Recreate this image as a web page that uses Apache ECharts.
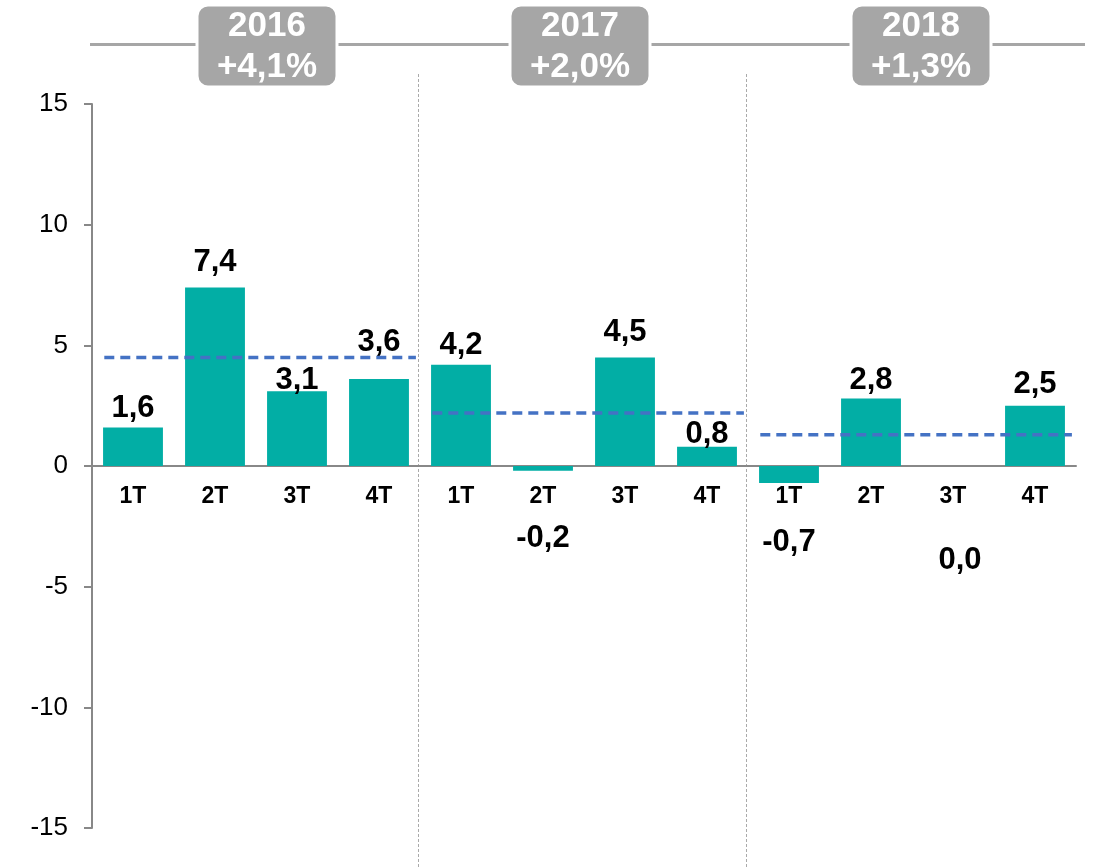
<!DOCTYPE html>
<html>
<head>
    <meta charset="UTF-8">
    <title>ECharts</title>
    <script src="https://cdn.jsdelivr.net/npm/echarts@6/dist/echarts.min.js"></script>
    <style>
        html, body { margin: 0; padding: 0; background: #fff; }
    </style>
</head>
<body>
    <div id="main" style="width:1099px;height:868px;"></div>
    <script type="text/javascript">
        // datos
        var quarters = ['1T', '2T', '3T', '4T', '1T', '2T', '3T', '4T', '1T', '2T', '3T', '4T'];
        var values = [1.6, 7.4, 3.1, 3.6, 4.2, -0.2, 4.5, 0.8, -0.7, 2.8, 0.0, 2.5];
        var years = ['2016', '2017', '2018'];
        var yearGrowth = ['+4,1%', '+2,0%', '+1,3%'];
        var yearAverage = [4.5, 2.2, 1.3];
        var yTicks = [-15, -10, -5, 0, 5, 10, 15];

        var myChart = echarts.init(document.getElementById('main'));

        var FONT = 'Liberation Sans, Arial, sans-serif';
        var GRID = { left: 92, right: 23, top: 104, bottom: 40 };
        var yMin = yTicks[0], yMax = yTicks[yTicks.length - 1];
        // el eje de categorías va sobre el cero
        var plotH = 868 - GRID.top - GRID.bottom;
        var zeroOffset = -plotH * (0 - yMin) / (yMax - yMin);

        // ajuste de etiquetas como en el original (dx, dy)
        var labelShift = [[0, 2], [0, -4], [0, 10], [0, -16], [0, 1], [0, 70], [0, -4], [0, 8], [0, 68], [0, 3], [7, 94], [0, -1]];

        var barData = values.map(function (v, i) {
            var item = { value: v };
            if (v < 0 || i === 10) {
                item.label = { position: 'inside', offset: labelShift[i] };
            } else {
                item.label = { offset: labelShift[i] };
            }
            return item;
        });

        var avgSeries = yearAverage.map(function (a, k) {
            return {
                type: 'line',
                xAxisIndex: 1,
                yAxisIndex: 1,
                symbol: 'none',
                silent: true,
                data: [[k * 4 + 0.15, a], [k * 4 + 3.95, a]],
                lineStyle: { color: '#4472c4', width: 3.5, type: [10, 6] },
                z: 5
            };
        });

        myChart.setOption({
            animation: false,
            grid: [GRID, GRID],
            xAxis: [{
                type: 'category',
                gridIndex: 0,
                position: 'bottom',
                offset: zeroOffset,
                data: quarters,
                axisLine: { onZero: false, lineStyle: { color: '#888', width: 2 } },
                axisTick: { alignWithLabel: true, length: 6, lineStyle: { color: '#888', width: 2 } },
                axisLabel: { color: '#000', fontFamily: FONT, fontWeight: 'bold', fontSize: 23, margin: 19 },
                splitLine: { show: false }
            }, {
                type: 'value',
                gridIndex: 1,
                min: 0,
                max: 12,
                show: false
            }],
            yAxis: [{
                type: 'value',
                gridIndex: 0,
                min: yMin,
                max: yMax,
                interval: 5,
                axisLine: { show: true, onZero: false, lineStyle: { color: '#888', width: 2 } },
                axisTick: { show: true, length: 8, lineStyle: { color: '#888', width: 2 } },
                axisLabel: { color: '#000', fontFamily: FONT, fontSize: 26, margin: 24 },
                splitLine: { show: false }
            }, {
                type: 'value',
                gridIndex: 1,
                min: yMin,
                max: yMax,
                show: false
            }],
            series: [{
                type: 'bar',
                data: barData,
                barWidth: '73%',
                itemStyle: { color: '#02aea5' },
                label: {
                    show: true,
                    position: 'top',
                    distance: 5,
                    color: '#000',
                    fontFamily: FONT,
                    fontWeight: 'bold',
                    fontSize: 31,
                    formatter: function (p) {
                        return p.value.toFixed(1).replace('.', ',');
                    }
                },
                z: 2
            }].concat(avgSeries)
        });

        // separadores y cabeceras de año
        var graphics = [];
        [4, 8].forEach(function (x) {
            var px = Math.round(myChart.convertToPixel({ xAxisIndex: 1 }, x)) - 1.5;
            graphics.push({
                type: 'line',
                shape: { x1: px, y1: 74, x2: px, y2: 868 },
                style: { stroke: '#aaa', lineWidth: 1, lineDash: [3, 2] },
                silent: true
            });
        });
        graphics.push({
            type: 'line',
            shape: { x1: 90, y1: 44.5, x2: 1085, y2: 44.5 },
            style: { stroke: '#a6a6a6', lineWidth: 3 },
            silent: true
        });
        var boxCenters = [267, 580, 921];
        years.forEach(function (y, k) {
            var cx = boxCenters[k];
            graphics.push({
                type: 'rect',
                shape: { x: cx - 70, y: 5, width: 140, height: 82, r: 11 },
                style: { fill: '#a6a6a6', stroke: '#fff', lineWidth: 3 },
                z: 10
            });
            graphics.push({
                type: 'text',
                x: cx, y: 26,
                style: { text: y, fill: '#fff', font: 'bold 35px ' + FONT, align: 'center', verticalAlign: 'middle' },
                z: 11
            });
            graphics.push({
                type: 'text',
                x: cx, y: 67,
                style: { text: yearGrowth[k], fill: '#fff', font: 'bold 35px ' + FONT, align: 'center', verticalAlign: 'middle' },
                z: 11
            });
        });
        myChart.setOption({ graphic: graphics });
    </script>
</body>
</html>
